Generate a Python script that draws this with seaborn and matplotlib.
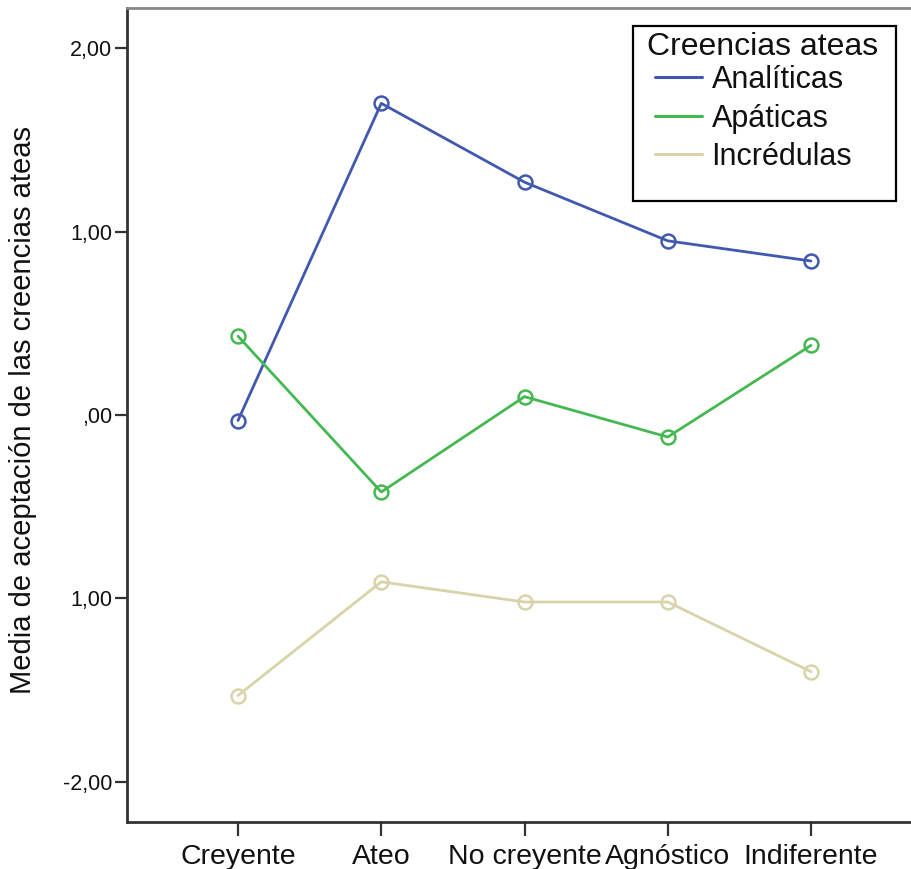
import matplotlib
matplotlib.use("Agg")
import matplotlib.pyplot as plt
from matplotlib.lines import Line2D
from matplotlib.patches import Rectangle
import seaborn as sns
import pandas as pd

categories = ["Creyente", "Ateo", "No creyente", "Agnóstico", "Indiferente"]
analiticas = [-0.03, 1.70, 1.27, 0.95, 0.84]
apaticas = [0.43, -0.42, 0.10, -0.12, 0.38]
incredulas = [-1.53, -0.91, -1.02, -1.02, -1.40]
series_names = ["Analíticas", "Apáticas", "Incrédulas"]
legend_title = "Creencias ateas"
colors = ["#4059AE", "#45B852", "#D8D3A8"]
yticks = [2, 1, 0, -1, -2]
yticklabels = ["2,00", "1,00", ",00", "1,00", "-2,00"]

rows = []
for name, vals in zip(series_names, [analiticas, apaticas, incredulas]):
    for i, v in enumerate(vals):
        rows.append({"pos": i, "cat": categories[i], "serie": name, "val": v})
df = pd.DataFrame(rows)

sns.set_style("white")
plt.rcParams["font.family"] = ["Liberation Sans", "DejaVu Sans"]
plt.rcParams["text.color"] = "#111111"

fig = plt.figure(figsize=(9.12, 8.69), dpi=100)
W, H = 912, 869
ax = fig.add_axes([127 / W, 47 / H, 795 / W, 814 / H])

for name, col in zip(series_names, colors):
    sns.lineplot(data=df[df["serie"] == name], x="pos", y="val", color=col,
                 sort=False, ax=ax, legend=False,
                 marker="o", markersize=10, markerfacecolor="none",
                 markeredgecolor=col, markeredgewidth=1.8, linewidth=2.0)

ax.set_xlim(-0.775, 4.775)
ax.set_ylim(-2.22, 2.22)
ax.set_xticks(range(len(categories)))
ax.set_xticklabels(categories, fontsize=20.5, color="#111111")
ax.set_yticks(yticks)
ax.set_yticklabels(yticklabels, fontsize=15.5, color="#111111")
ax.set_xlabel("")
ax.set_ylabel("Media de aceptación de las creencias ateas", fontsize=21,
              color="#111111")
ax.yaxis.set_label_coords((37 - 127) / 795, (822 - 410) / 814)
ax.tick_params(axis="x", direction="out", length=10, width=1.6, color="#333333",
               pad=5.5, bottom=True)
ax.tick_params(axis="y", direction="out", length=9, width=1.6, color="#333333",
               pad=1.5, left=True)

for s in ["left", "bottom"]:
    ax.spines[s].set_color("#333333")
    ax.spines[s].set_linewidth(2)
ax.spines["top"].set_color("#888888")
ax.spines["top"].set_linewidth(2)
ax.spines["right"].set_visible(False)


def fx(px):
    return (px - 127) / 795


def fy(py):
    return (822 - py) / 814


# legend frame
ax.add_patch(Rectangle((fx(633), fy(201)), fx(896) - fx(633), fy(26) - fy(201),
                       transform=ax.transAxes, fill=True, facecolor="white",
                       edgecolor="black", linewidth=1.6, zorder=5))
ax.text(fx(647), fy(32), legend_title, transform=ax.transAxes, fontsize=23,
        ha="left", va="top", color="#111111", zorder=6)
handles = [Line2D([0], [0], color=c, lw=2.2) for c in colors]
leg = ax.legend(handles, series_names, fontsize=22, loc="upper left",
                bbox_to_anchor=(fx(655), fy(65)),
                frameon=False, handlelength=1.55, handletextpad=0.3,
                labelspacing=0.28, borderpad=0.0, borderaxespad=0)
leg.set_zorder(6)
for t in leg.get_texts():
    t.set_color("#111111")

fig.savefig("out.png", dpi=100)
